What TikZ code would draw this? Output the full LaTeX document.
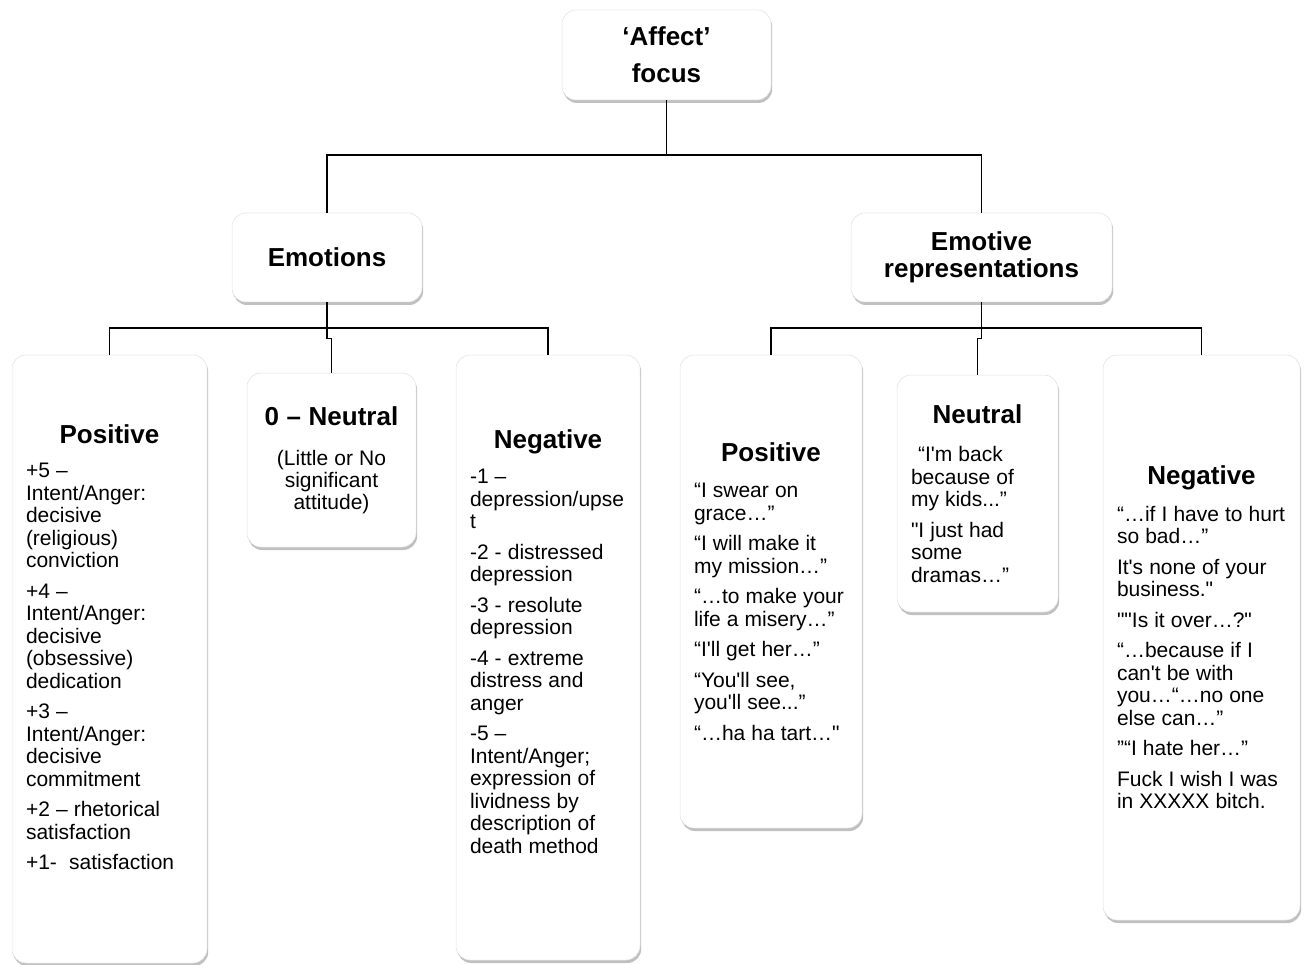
\documentclass[tikz,border=0pt]{standalone}
\usepackage{fontspec}
\newfontfamily\af{Liberation Sans}
\usetikzlibrary{shadows}
\newcommand\sps{\spaceskip=0.29em plus 0.1em\relax}
\newcommand\hd[2][3pt]{{\centering\fontsize{26pt}{30pt}\selectfont\bfseries\sps #2\par}\vspace{#1}}
\newcommand\bd[1]{{\raggedright\fontsize{21pt}{22.5pt}\selectfont\sps #1\par}}
\newcommand\bdc[1]{{\centering\fontsize{21pt}{22pt}\selectfont\sps #1\par}}
\begin{document}
\begin{tikzpicture}[x=1pt,y=-1pt,
  box/.style={draw=black!12, line width=0.5pt, fill=white, rounded corners=14pt,
    drop shadow={shadow xshift=1.2pt, shadow yshift=-3pt, opacity=0.35, fill=black!70},
    inner xsep=14pt, inner ysep=2pt,
    font=\af\setlength{\parskip}{8pt}\setlength{\parindent}{0pt}},
  tbox/.style={box, align=center, font=\af\bfseries\fontsize{26pt}{30pt}\selectfont\sps},
  conn/.style={line width=1.5pt, black}]
\useasboundingbox (0,0) rectangle (1305,965);
\fill[white] (0,0) rectangle (1305,965);

% top level
\node[tbox, minimum width=209pt, minimum height=90pt,
  font=\af\bfseries\fontsize{26pt}{37pt}\selectfont\sps] (aff) at (666.5,55) {‘Affect’\\focus};
\node[tbox, minimum width=190pt, minimum height=89pt] (emo) at (327,257.5) {Emotions};
\node[tbox, minimum width=261pt, minimum height=89pt,
  font=\af\bfseries\fontsize{26pt}{27pt}\selectfont\sps] (emr) at (981.5,257.5) {Emotive\\representations};

% Emotions children
\node[box, text width=167pt, minimum width=195pt, minimum height=608pt] (epos) at (109.5,659) {%
\hd[4pt]{Positive}
\bd{+5 –\newline Intent/Anger:\newline decisive\newline (religious)\newline conviction}
\bd{+4 –\newline Intent/Anger:\newline decisive\newline (obsessive)\newline dedication}
\bd{+3 –\newline Intent/Anger:\newline decisive\newline commitment}
\bd{+2 – rhetorical\newline satisfaction}
\bd{\mbox{+1-~~satisfaction}}\par\kern24pt};

\node[box, text width=141pt, minimum width=169pt, minimum height=174pt] (enu) at (331.5,460) {%
\hd[10pt]{0 – Neutral}
\bdc{(Little or No\\ significant\\ attitude)}};

\node[box, text width=156pt, minimum width=184pt, minimum height=605pt] (eneg) at (548,657.5) {%
\hd[5pt]{Negative}
\bd{-1 –\newline \mbox{depression/upse}\newline t}
\bd{-2 - distressed\newline depression}
\bd{-3 - resolute\newline depression}
\bd{-4 - extreme\newline distress and\newline anger}
\bd{-5 –\newline Intent/Anger;\newline expression of\newline lividness by\newline \mbox{description of}\newline \mbox{death method}}\par\kern32pt};

% Emotive representations children
\node[box, text width=154pt, minimum width=182pt, minimum height=473pt] (rpos) at (771,591.5) {%
\hd[6pt]{Positive}
\bd{“I swear on\newline grace…”}
\bd{“I will make it\newline my mission…”}
\bd{\mbox{“…to make your}\newline \mbox{life a misery…”}}
\bd{“I'll get her…”}
\bd{“You'll see,\newline you'll see...”}
\bd{\mbox{“…ha ha tart…"}}};

\node[box, text width=133pt, minimum width=161pt, minimum height=237pt] (rnu) at (977.5,493.5) {%
\hd[8pt]{Neutral}
\bd{\hspace*{7pt}“I'm back\newline because of\newline my kids...”}
\bd{"I just had\newline some\newline dramas…”}};

\node[box, text width=169pt, minimum width=197pt, minimum height=565pt] (rneg) at (1201.5,637.5) {%
\hd[6pt]{Negative}
\bd{\mbox{“…if I have to hurt}\newline so bad…”}
\bd{\mbox{It's none of your}\newline business."}
\bd{""Is it over…?"}
\bd{“…because if I\newline can't be with\newline \mbox{you…“…no one}\newline else can…”}
\bd{”“I hate her…”}
\bd{\mbox{Fuck I wish I was}\newline \mbox{in XXXXX bitch.}}};

% connectors
\coordinate (eb) at (327,328);
\coordinate (rb) at (981.5,328);
\draw[conn] (aff.south) -- ++(0,55) -| (emo.north);
\draw[conn] (aff.south) -- ++(0,55) -| (emr.north);
\draw[conn] (epos.north) |- (eb) -| (eneg.north);
\draw[conn] (emo.south) -- ++(0,36) -| (enu.north);
\draw[conn] (rpos.north) |- (rb) -| (rneg.north);
\draw[conn] (emr.south) -- ++(0,36) -| (rnu.north);
\end{tikzpicture}
\end{document}
